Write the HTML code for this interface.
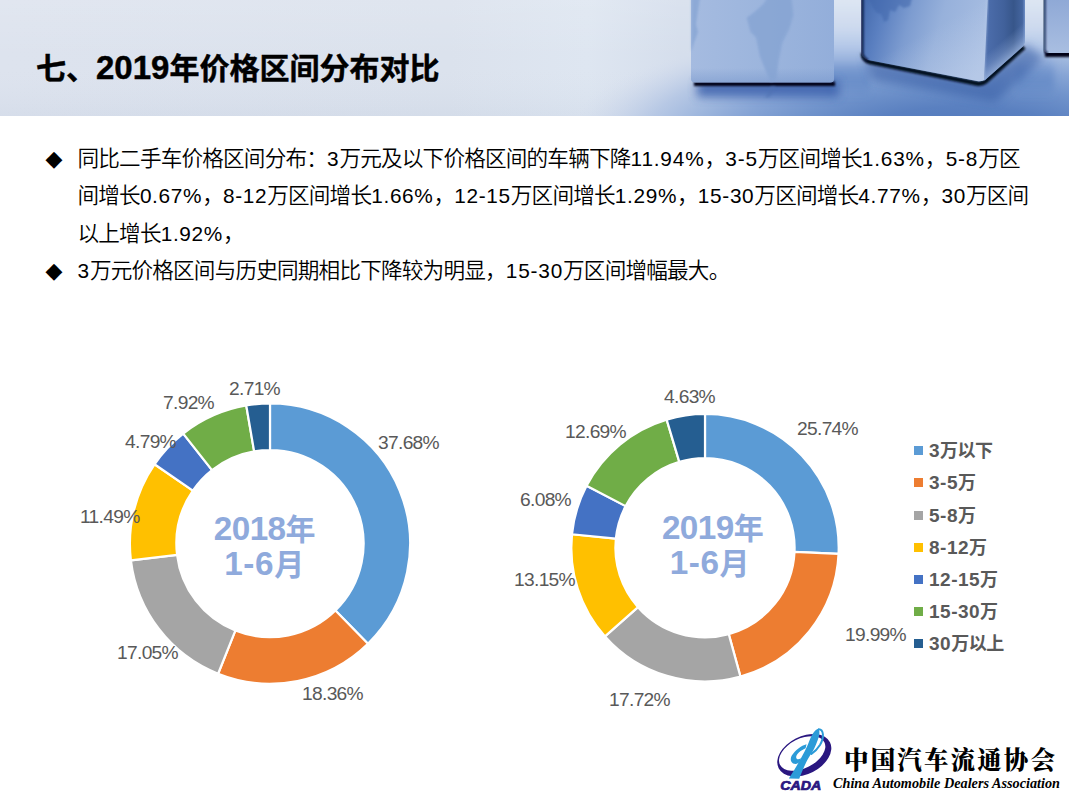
<!DOCTYPE html>
<html lang="zh-CN">
<head>
<meta charset="utf-8">
<title>七、2019年价格区间分布对比</title>
<style>
html,body{margin:0;padding:0;background:#fff;}
body{width:1069px;height:800px;position:relative;overflow:hidden;
  font-family:"Liberation Sans","Noto Sans CJK SC",sans-serif;color:#000;}
#hdr{position:absolute;left:0;top:0;width:1069px;height:116px;overflow:hidden;background:#dce3ee;}
#hdr svg{position:absolute;left:0;top:0;}
#title{position:absolute;left:36px;top:46.5px;-webkit-text-stroke:0.45px #000;margin:0;font-size:30px;line-height:44px;font-weight:bold;
  white-space:nowrap;letter-spacing:0px;}
#title .d{font-size:33px;line-height:1px;letter-spacing:0px;}
#body{position:absolute;left:0;top:0;margin:0;padding:0;list-style:none;}
#body li{position:absolute;left:77.5px;width:980px;font-size:21.6px;letter-spacing:-0.8px;font-weight:350;line-height:37.3px;white-space:nowrap;}
#body li .bl{letter-spacing:0;font-weight:400;position:absolute;left:-32px;top:0px;font-size:22px;font-family:"DejaVu Sans",sans-serif;}
.n1{letter-spacing:0.82px;font-size:20.8px;font-weight:400;}
.n2{letter-spacing:0.66px;font-size:20.8px;font-weight:400;}
#chart{position:absolute;left:0;top:0;}
.dl{font-size:19.2px;letter-spacing:-0.68px;fill:#595959;font-family:"Liberation Sans","Noto Sans CJK SC",sans-serif;}
.lg{font-size:18px;letter-spacing:-0.5px;fill:#595959;font-weight:bold;font-family:"Liberation Sans","Noto Sans CJK SC",sans-serif;}
.ct{font-size:30px;fill:#8faadc;font-weight:bold;text-anchor:middle;font-family:"Liberation Sans","Noto Sans CJK SC",sans-serif;}
.cd{font-size:33.3px;letter-spacing:-0.6px;}
.ld{font-size:19px;letter-spacing:0.5px;}
#logo{position:absolute;left:0;top:0;}
</style>
</head>
<body>
<div id="hdr">
<svg width="1069" height="116" viewBox="0 0 1069 116">
<defs>
<linearGradient id="bg" x1="0" y1="0" x2="1069" y2="0" gradientUnits="userSpaceOnUse">
<stop offset="0" stop-color="#dde3ee"/><stop offset="0.42" stop-color="#dbe2ed"/><stop offset="0.55" stop-color="#dee6f1"/><stop offset="0.635" stop-color="#d5deec"/><stop offset="1" stop-color="#d5deec"/>
</linearGradient>
<linearGradient id="bgv" x1="0" y1="0" x2="0" y2="116" gradientUnits="userSpaceOnUse">
<stop offset="0" stop-color="#fff" stop-opacity="0.12"/><stop offset="0.5" stop-color="#fff" stop-opacity="0"/><stop offset="1" stop-color="#5070a0" stop-opacity="0.05"/>
</linearGradient>
<radialGradient id="fl" cx="0" cy="0" r="1" gradientUnits="userSpaceOnUse" gradientTransform="translate(962 140) scale(398 124)">
<stop offset="0" stop-color="#4f77ba"/><stop offset="0.27" stop-color="#5a80c0"/><stop offset="0.45" stop-color="#7194cc"/><stop offset="0.58" stop-color="#86a4d5"/><stop offset="0.7" stop-color="#a0b8de"/><stop offset="0.8" stop-color="#b4c6e4" stop-opacity="0.9"/><stop offset="0.9" stop-color="#c9d5ea" stop-opacity="0.6"/><stop offset="1" stop-color="#d8e0ee" stop-opacity="0"/>
</radialGradient>
<linearGradient id="gap" x1="0" y1="0" x2="0" y2="116" gradientUnits="userSpaceOnUse">
<stop offset="0" stop-color="#dde6f3"/><stop offset="0.25" stop-color="#ccd9ee"/><stop offset="0.4" stop-color="#b4c8e8"/><stop offset="0.52" stop-color="#98b2dd"/><stop offset="0.6" stop-color="#7496ce" stop-opacity="0.9"/><stop offset="0.7" stop-color="#5f86c4" stop-opacity="0.7"/><stop offset="0.85" stop-color="#5f86c4" stop-opacity="0"/>
</linearGradient>
<linearGradient id="c1" x1="691" y1="0" x2="834" y2="0" gradientUnits="userSpaceOnUse">
<stop offset="0" stop-color="#a5bbe0"/><stop offset="0.5" stop-color="#9cb5dd"/><stop offset="1" stop-color="#93aeda"/>
</linearGradient>
<linearGradient id="c1v" x1="0" y1="68" x2="0" y2="83" gradientUnits="userSpaceOnUse">
<stop offset="0" stop-color="#6f90c8" stop-opacity="0"/><stop offset="1" stop-color="#6f90c8" stop-opacity="0.45"/>
</linearGradient>
<linearGradient id="c2f" x1="863" y1="5" x2="986" y2="40" gradientUnits="userSpaceOnUse">
<stop offset="0" stop-color="#456bae"/><stop offset="0.16" stop-color="#5a7fc0"/><stop offset="0.38" stop-color="#7d9cd0"/><stop offset="0.62" stop-color="#97b1db"/><stop offset="1" stop-color="#a8bee2"/>
</linearGradient>
<linearGradient id="c2fv" x1="930" y1="30" x2="960" y2="85" gradientUnits="userSpaceOnUse">
<stop offset="0" stop-color="#c9d7ee" stop-opacity="0"/><stop offset="1" stop-color="#c9d7ee" stop-opacity="0.4"/>
</linearGradient>
<linearGradient id="c2s" x1="987" y1="0" x2="1025" y2="0" gradientUnits="userSpaceOnUse">
<stop offset="0" stop-color="#4c6dab"/><stop offset="0.45" stop-color="#41619b"/><stop offset="0.7" stop-color="#37568a"/><stop offset="0.93" stop-color="#44659f"/><stop offset="1" stop-color="#6f8fc6"/>
</linearGradient>
<linearGradient id="c2sl" x1="1003" y1="64" x2="991" y2="50" gradientUnits="userSpaceOnUse">
<stop offset="0" stop-color="#9ab3dc" stop-opacity="0.8"/><stop offset="0.5" stop-color="#8aa5d4" stop-opacity="0.35"/><stop offset="1" stop-color="#8aa5d4" stop-opacity="0"/>
</linearGradient>
<linearGradient id="rgt" x1="1000" y1="0" x2="1069" y2="0" gradientUnits="userSpaceOnUse">
<stop offset="0" stop-color="#9db6dd" stop-opacity="0"/><stop offset="1" stop-color="#9db6dd" stop-opacity="0.5"/>
</linearGradient>
<linearGradient id="c3" x1="0" y1="0" x2="0" y2="53" gradientUnits="userSpaceOnUse"><stop offset="0" stop-color="#8fa9d6"/><stop offset="1" stop-color="#a9bee1"/></linearGradient>
<filter id="b5" x="-20%" y="-60%" width="140%" height="220%"><feGaussianBlur stdDeviation="5"/></filter>
<filter id="b3" x="-20%" y="-60%" width="140%" height="220%"><feGaussianBlur stdDeviation="3"/></filter>
<filter id="b1" x="-20%" y="-60%" width="140%" height="220%"><feGaussianBlur stdDeviation="0.8"/></filter>
</defs>
<rect x="0" y="0" width="1069" height="116" fill="url(#bg)"/>
<rect x="0" y="0" width="1069" height="116" fill="url(#bgv)"/>
<rect x="0" y="0" width="1069" height="116" fill="url(#fl)"/>
<rect x="826" y="-10" width="44" height="126" fill="url(#gap)" filter="url(#b3)"/>
<rect x="1016" y="-10" width="38" height="126" fill="url(#gap)" filter="url(#b3)"/>
<!-- cube1 shadow -->
<rect x="697" y="80" width="142" height="17" fill="#3c62ad" opacity="0.85" filter="url(#b5)"/>
<rect x="694" y="81.6" width="141" height="4.4" fill="#000413" filter="url(#b1)"/>
<!-- cube1 -->
<path d="M691,-5H834V79Q834,82.6 830,82.6H695.5Q691,82.6 691,79Z" fill="url(#c1)"/>
<path d="M691,-5H834V79Q834,82.6 830,82.6H695.5Q691,82.6 691,79Z" fill="url(#c1v)"/>
<path d="M691.5,-2 L700,-2 L698,11 L696,24 L698,32 L694,43 L691.5,52Z" fill="#86a4d3" opacity="0.75" filter="url(#b1)"/>
<path d="M746.7,17.8 L754.2,12.2 L763.5,3.7 L767.3,-2 L791.6,-2 L793.5,15 L789.7,28 L782.3,43 L778.5,61.7 L776.6,78.6 L771,82.3 L767.3,74.8 L759.8,56 L756,37.4 L750.4,31.8Z" fill="#86a4d3" opacity="0.8" filter="url(#b1)"/>
<path d="M771,86 L776,86 L770,97 L765,98Z" fill="#4f72b2" opacity="0.5" filter="url(#b1)"/>
<!-- cube2 shadow -->
<path d="M864,56 L981,82 L1026,44 L1044,58 L995,102 L872,80Z" fill="#2f559f" opacity="0.5" filter="url(#b5)"/>
<path d="M863,53 Q863,60 870,62 L977,83.5 Q982,84.5 986,81 L1024,47" fill="none" stroke="#050b1e" stroke-width="4.5" filter="url(#b1)"/>
<!-- cube2 -->
<path d="M861.5,-5 V52 Q861.5,58 868,60 L977,81 Q982,82 986,79 L1021,48 Q1025,45 1025,40 V-5Z" fill="url(#c2f)"/>
<path d="M861.5,-5 V52 Q861.5,58 868,60 L977,81 Q982,82 986,79 L987,-5Z" fill="url(#c2fv)"/>
<path d="M988,-5 L984,80.5 Q985,80 986,79 L1021,48 Q1025,45 1025,40 V-5Z" fill="url(#c2s)"/>
<path d="M988,-5 L984,80.5 Q985,80 986,79 L1021,48 Q1025,45 1025,40 V-5Z" fill="url(#c2sl)"/>
<path d="M987.5,-5 L983.5,80" stroke="#b4c8e8" stroke-width="1.6" opacity="0.7" filter="url(#b1)"/>
<path d="M862.3,-5 V52 Q862.3,58 868,60.5" fill="none" stroke="#0c1a3e" stroke-width="2.4" filter="url(#b1)"/>
<path d="M868,-2 L912,-2 L910,6 L904,8 L899,5 L895,12 L890,10 L888,20 L884,22 L881,14 L877,13 L873,8Z" fill="#3f66ab" opacity="0.55" filter="url(#b1)"/>
<!-- cube3 -->
<rect x="1045" y="50" width="30" height="7" fill="#000413" filter="url(#b1)"/>
<path d="M1044,-5 H1075 V53 H1048 Q1044,53 1044,49Z" fill="url(#c3)"/>
<path d="M1044.6,-5 V49 Q1044.6,53 1048,53" fill="none" stroke="#0c1a3e" stroke-width="1.8" filter="url(#b1)"/>
<path d="M1047.5,-5 V50" stroke="#cfdcef" stroke-width="2" opacity="0.8" filter="url(#b1)"/>

</svg>
</div>
<h1 id="title">七、<span class="d">2019</span>年价格区间分布对比</h1>
<ul id="body">
<li style="top:140px"><span class="bl">◆</span>同比二手车价格区间分布：<span class="n1">3</span>万元及以下价格区间的车辆下降<span class="n1">11.94%</span>，<span class="n1">3-5</span>万区间增长<span class="n1">1.63%</span>，<span class="n1">5-8</span>万区<br>间增长<span class="n2">0.67%</span>，<span class="n2">8-12</span>万区间增长<span class="n2">1.66%</span>，<span class="n2">12-15</span>万区间增长<span class="n2">1.29%</span>，<span class="n2">15-30</span>万区间增长<span class="n2">4.77%</span>，<span class="n2">30</span>万区间<br>以上增长<span class="n2">1.92%</span>，</li>
<li style="top:252px"><span class="bl">◆</span><span class="n1">3</span>万元价格区间与历史同期相比下降较为明显，<span class="n1">15-30</span>万区间增幅最大。</li>
</ul>
<svg id="chart" width="1069" height="800" viewBox="0 0 1069 800">
<path d="M270.00,403.50A140.1,140.1 0 0 1 367.94,643.78L335.43,610.53A93.6,93.6 0 0 0 270.00,450.00Z" fill="#5b9bd5" stroke="#fff" stroke-width="2.2" stroke-linejoin="round"/>
<path d="M367.94,643.78A140.1,140.1 0 0 1 218.10,673.73L235.32,630.54A93.6,93.6 0 0 0 335.43,610.53Z" fill="#ed7d31" stroke="#fff" stroke-width="2.2" stroke-linejoin="round"/>
<path d="M218.10,673.73A140.1,140.1 0 0 1 130.91,560.37L177.07,554.81A93.6,93.6 0 0 0 235.32,630.54Z" fill="#a5a5a5" stroke="#fff" stroke-width="2.2" stroke-linejoin="round"/>
<path d="M130.91,560.37A140.1,140.1 0 0 1 154.52,464.27L192.85,490.60A93.6,93.6 0 0 0 177.07,554.81Z" fill="#ffc000" stroke="#fff" stroke-width="2.2" stroke-linejoin="round"/>
<path d="M154.52,464.27A140.1,140.1 0 0 1 183.23,433.60L212.03,470.11A93.6,93.6 0 0 0 192.85,490.60Z" fill="#4472c4" stroke="#fff" stroke-width="2.2" stroke-linejoin="round"/>
<path d="M183.23,433.60A140.1,140.1 0 0 1 246.26,405.53L254.14,451.35A93.6,93.6 0 0 0 212.03,470.11Z" fill="#70ad47" stroke="#fff" stroke-width="2.2" stroke-linejoin="round"/>
<path d="M246.26,405.53A140.1,140.1 0 0 1 270.00,403.50L270.00,450.00A93.6,93.6 0 0 0 254.14,451.35Z" fill="#255e91" stroke="#fff" stroke-width="2.2" stroke-linejoin="round"/>
<path d="M705.00,414.00A133.7,133.7 0 0 1 838.56,553.91L794.50,551.86A89.6,89.6 0 0 0 705.00,458.10Z" fill="#5b9bd5" stroke="#fff" stroke-width="2.2" stroke-linejoin="round"/>
<path d="M838.56,553.91A133.7,133.7 0 0 1 740.44,676.62L728.75,634.09A89.6,89.6 0 0 0 794.50,551.86Z" fill="#ed7d31" stroke="#fff" stroke-width="2.2" stroke-linejoin="round"/>
<path d="M740.44,676.62A133.7,133.7 0 0 1 604.99,636.43L637.98,607.16A89.6,89.6 0 0 0 728.75,634.09Z" fill="#a5a5a5" stroke="#fff" stroke-width="2.2" stroke-linejoin="round"/>
<path d="M604.99,636.43A133.7,133.7 0 0 1 571.98,534.28L615.85,538.71A89.6,89.6 0 0 0 637.98,607.16Z" fill="#ffc000" stroke="#fff" stroke-width="2.2" stroke-linejoin="round"/>
<path d="M571.98,534.28A133.7,133.7 0 0 1 586.57,485.66L625.63,506.12A89.6,89.6 0 0 0 615.85,538.71Z" fill="#4472c4" stroke="#fff" stroke-width="2.2" stroke-linejoin="round"/>
<path d="M586.57,485.66A133.7,133.7 0 0 1 666.65,419.62L679.30,461.86A89.6,89.6 0 0 0 625.63,506.12Z" fill="#70ad47" stroke="#fff" stroke-width="2.2" stroke-linejoin="round"/>
<path d="M666.65,419.62A133.7,133.7 0 0 1 705.00,414.00L705.00,458.10A89.6,89.6 0 0 0 679.30,461.86Z" fill="#255e91" stroke="#fff" stroke-width="2.2" stroke-linejoin="round"/>
<text class="dl" x="378" y="449">37.68%</text>
<text class="dl" x="302" y="700">18.36%</text>
<text class="dl" x="117" y="659">17.05%</text>
<text class="dl" x="80" y="523">11.49%</text>
<text class="dl" x="125" y="447.5">4.79%</text>
<text class="dl" x="163" y="408.5">7.92%</text>
<text class="dl" x="229" y="395">2.71%</text>
<text class="dl" x="797" y="435">25.74%</text>
<text class="dl" x="845" y="641">19.99%</text>
<text class="dl" x="609" y="706">17.72%</text>
<text class="dl" x="514" y="586">13.15%</text>
<text class="dl" x="520" y="506">6.08%</text>
<text class="dl" x="565" y="438">12.69%</text>
<text class="dl" x="664" y="403">4.63%</text>
<text class="ct" x="264.7" y="540.2"><tspan class="cd">2018</tspan>年</text>
<text class="ct" x="264.2" y="575.2"><tspan class="cd" style="letter-spacing:0.6px">1-6</tspan>月</text>
<text class="ct" x="712.8" y="539.2"><tspan class="cd">2019</tspan>年</text>
<text class="ct" x="709.6" y="574.4"><tspan class="cd" style="letter-spacing:0.6px">1-6</tspan>月</text>
<rect x="914" y="446" width="9" height="9" fill="#5b9bd5"/><text class="lg" x="929" y="457"><tspan class="ld">3</tspan>万以下</text>
<rect x="914" y="478" width="9" height="9" fill="#ed7d31"/><text class="lg" x="929" y="489"><tspan class="ld">3-5</tspan>万</text>
<rect x="914" y="511" width="9" height="9" fill="#a5a5a5"/><text class="lg" x="929" y="522"><tspan class="ld">5-8</tspan>万</text>
<rect x="914" y="543" width="9" height="9" fill="#ffc000"/><text class="lg" x="929" y="554"><tspan class="ld">8-12</tspan>万</text>
<rect x="914" y="575" width="9" height="9" fill="#4472c4"/><text class="lg" x="929" y="586"><tspan class="ld">12-15</tspan>万</text>
<rect x="914" y="607" width="9" height="9" fill="#70ad47"/><text class="lg" x="929" y="618"><tspan class="ld">15-30</tspan>万</text>
<rect x="914" y="639" width="9" height="9" fill="#255e91"/><text class="lg" x="929" y="650"><tspan class="ld">30</tspan>万以上</text>

</svg>
<svg id="logo" width="1069" height="800" viewBox="0 0 1069 800">
<g>
<g transform="translate(804.3 755.2) rotate(-27)">
<path fill-rule="evenodd" fill="#2a1780" d="M-28.80,0.00 A28.8,18.8 0 1 0 28.80,0.00 A28.8,18.8 0 1 0 -28.80,0.00Z M-26.00,-2.50 A24.9,14.7 0 1 1 23.80,-2.50 A24.9,14.7 0 1 1 -26.00,-2.50Z"/>
</g>
<path d="M806.50,744.25 C801.25,745.56 795.12,750.37 791.80,755.62 C789.44,760.00 791.19,763.93 795.56,763.93 C797.31,763.93 798.45,763.06 799.50,762.10 L800.90,758.25 C798.62,759.82 796.43,759.65 796.17,757.55 C796.00,754.31 800.37,750.55 805.62,748.27Z" fill="#2b9bd8"/>
<path d="M818.57,728.67 C814.37,729.37 811.05,735.94 808.68,742.50 C805.80,750.37 796.87,766.12 788.82,778.54 L799.23,778.72 C803.00,768.74 807.55,758.25 812.45,751.68 C814.81,747.92 817.43,741.62 819.01,735.94 C819.62,733.05 819.62,730.07 818.57,728.67Z" fill="#2b9bd8"/>
<path d="M818.74,729.20 C823.64,729.37 824.52,737.25 819.97,744.95 C816.82,750.02 814.02,752.12 811.40,753.87" fill="none" stroke="#2b9bd8" stroke-width="2" stroke-linecap="round"/>
<text x="780.2" y="789.7" font-family="'Liberation Sans',sans-serif" font-weight="bold" font-style="italic" font-size="12.4" fill="#2a1780" stroke="#2a1780" stroke-width="0.7" textLength="41" lengthAdjust="spacingAndGlyphs">CADA</text>
<text x="844" y="768.5" font-family="'Noto Serif CJK SC','Noto Sans CJK SC',serif" font-weight="900" font-size="24.5" fill="#000" textLength="211" lengthAdjust="spacing">中国汽车流通协会</text>
<text x="833" y="788.3" font-family="'Liberation Serif',serif" font-style="italic" font-weight="bold" font-size="14.6" fill="#000" textLength="227" lengthAdjust="spacingAndGlyphs">China Automobile Dealers Association</text>
</g>

</svg>
</body>
</html>
